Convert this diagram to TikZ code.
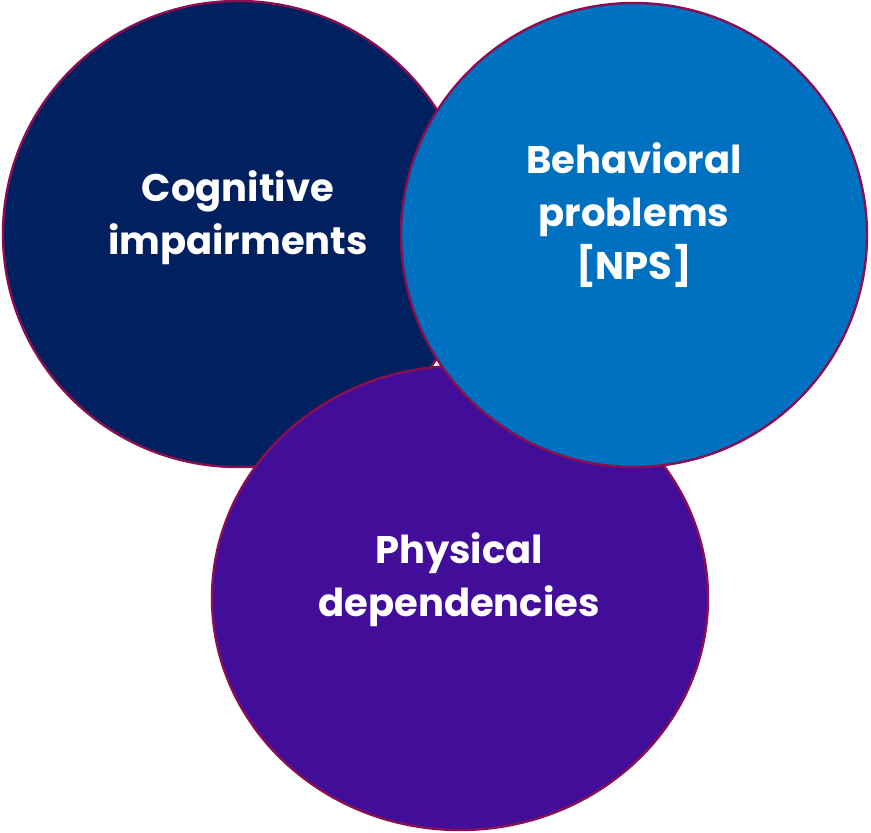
\documentclass[tikz,border=0pt]{standalone}
\usepackage{fontspec}
\setmainfont{Poppins}
\usetikzlibrary{shapes.geometric}
\begin{document}
\begin{tikzpicture}[x=1pt,y=-1pt,
  disc/.style={ellipse,draw=rimcol,line width=2.4pt,inner sep=0pt},
  lbl/.style={text=white,align=center,font=\fontsize{38.5}{53}\selectfont\bfseries}]
\definecolor{rimcol}{HTML}{8A0F52}
\definecolor{navy}{HTML}{002060}
\definecolor{skyblue}{HTML}{0070C0}
\definecolor{violet}{HTML}{420E99}
\useasboundingbox (0,0) rectangle (871,833);
% three overlapping areas, drawn back to front
\node[disc,fill=navy,minimum width=470pt,minimum height=466pt] (cog) at (238,234) {};
\node[disc,fill=violet,minimum width=496pt,minimum height=464pt] (phy) at (460,598) {};
\node[disc,fill=skyblue,minimum width=466pt,minimum height=464pt] (beh) at (634,235) {};
\node[lbl] (tcog) at (238,218) {Cognitive\\impairments};
\node[lbl] (tbeh) at (634,215) {Behavioral\\problems\\{[NPS]}};
\node[lbl] (tphy) at (459,580) {Physical\\dependencies};
\end{tikzpicture}
\end{document}
